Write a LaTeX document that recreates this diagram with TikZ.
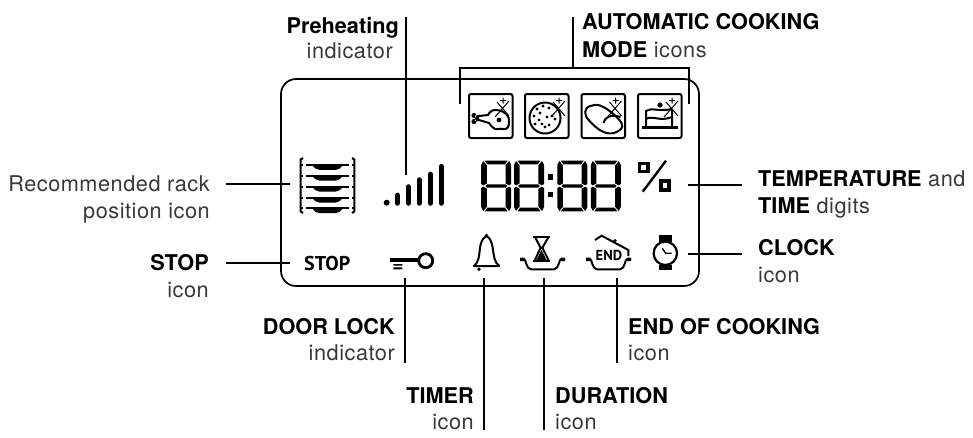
\documentclass[tikz,border=0pt]{standalone}
\usepackage{fontspec}
\setmainfont{TeX Gyre Heros}[UprightFeatures={LetterSpace=2.5}]
\newfontfamily\lcdfont{PT Sans}
\newcommand{\lblb}[1]{\textcolor{black}{\textbf{#1}}}
\tikzset{
    leader/.style={line width=1.3pt},
    panel/.style={draw, line width=1.7pt, rounded corners=15pt, minimum width=418pt, minimum height=207pt, inner sep=0pt},
    labelr/.style={anchor=base east, align=right, inner sep=0pt, text=black!78, font=\fontsize{21.7}{25}\selectfont},
    labell/.style={anchor=base west, align=left, inner sep=0pt, text=black!78, font=\fontsize{21.7}{25}\selectfont},
    lcdtext/.style={inner sep=0pt, font=\lcdfont\bfseries},
    lcdline/.style={line width=2pt},
    % frame of one cooking mode, with its star
    pics/foodbox/.style={code={
        \draw[line width=2pt, rounded corners=2pt] (0,0) rectangle (43.5,44);
        \draw[line width=1pt] (26,23) -- (40,7) (28,8) -- (40,22) (34,3.5) -- (34,9.5) (31,6.7) -- (37,6.7);
    }},
    % one digit, drawn about its centre
    pics/lcddigit/.style={code={
        \foreach \sy in {1,-1} {
            \fill[yscale=\sy] (-11.5,-25.4) -- (11.5,-25.4) -- (8.8,-21.6) -- (-8.8,-21.6) -- cycle;
        }
        \fill (-9.2,-1.7) -- (9.2,-1.7) -- (10.8,0) -- (9.2,1.7) -- (-9.2,1.7) -- (-10.8,0) -- cycle;
        \foreach \sx/\sy in {1/1,-1/1,1/-1,-1/-1} {
            \fill[xscale=\sx,yscale=\sy] (-13,-25) .. controls (-14.8,-23.5) .. (-15,-21) -- (-15,-2) -- (-12.8,-0.7) -- (-9.4,-2.6) -- (-9.4,-20.8) -- cycle;
        }
    }},
    % one rack of the oven
    pics/rackshelf/.style={code={
        \draw[line width=1.7pt] (6,0) -- (49,0);
        \fill (12,0) -- (43,0) .. controls (40,3) and (39,4.8) .. (36,4.8) -- (19,4.8) .. controls (16,4.8) and (15,3) .. (12,0) -- cycle;
        \draw[line width=1.7pt] (0,0) -- (3,0) (52,0) -- (55,0);
    }},
    % dish below the timer icons
    pics/lcdtray/.style={code={
        \draw[line width=2pt, line join=round] (0,0) -- (4,0) .. controls (6,0) and (6,10.3) .. (11,10.3) -- (34,10.3) .. controls (39,10.3) and (39,0) .. (41,0) -- (45,0);
        \fill (0,-1.4) rectangle (4,2) (41,-1.4) rectangle (45,2);
    }}
}
\begin{document}
\begin{tikzpicture}[x=1pt, y=-1pt]
    \useasboundingbox (0,0) rectangle (973,437);

    % Display
    \node[panel] (display) at (490,182.5) {};

    % Labels
    \node[labelr] (preheat) at (399,58) {\lblb{Preheating}\\indicator\hspace*{6pt}};
    \node[labell] (automatic) at (582,57) {\lblb{AUTOMATIC COOKING}\\[3pt]\lblb{MODE} icons};
    \node[labelr] (rack) at (210,218) {Recommended rack\\[2pt]position icon};
    \node[labelr] (stop) at (209,297) {\lblb{STOP}\\[2pt]icon};
    \node[labell] (temp) at (758,213) {\lblb{TEMPERATURE} and\\[2pt]\lblb{TIME} digits};
    \node[labell] (clock) at (758,282) {\lblb{CLOCK}\\[2pt]icon};
    \node[labelr] (door) at (395,360) {\lblb{DOOR LOCK}\\[1pt]indicator};
    \node[labelr] (timer) at (474,429) {\lblb{TIMER}\\[1pt]icon};
    \node[labell] (duration) at (555,429) {\lblb{DURATION}\\[1pt]icon};
    \node[labell] (endcook) at (628,360) {\lblb{END OF COOKING}\\[1pt]icon};

    % Leader ends
    \coordinate (preheatA) at (406,17);
    \coordinate (preheatB) at (406,175);
    \coordinate (autoA) at (573,17);
    \coordinate (autoB) at (573,68);
    \coordinate (autoL) at (460,68);
    \coordinate (autoR) at (689,68);
    \coordinate (autoLd) at (460,104);
    \coordinate (autoRd) at (689,104);
    \coordinate (rackA) at (226,184);
    \coordinate (rackB) at (290,184);
    \coordinate (stopA) at (226,263);
    \coordinate (stopB) at (290,263);
    \coordinate (tempA) at (688,185);
    \coordinate (tempB) at (742,185);
    \coordinate (clockA) at (688,254);
    \coordinate (clockB) at (742,254);
    \coordinate (doorA) at (405,278);
    \coordinate (doorB) at (405,363);
    \coordinate (timerA) at (484,278);
    \coordinate (timerB) at (484,430);
    \coordinate (durationA) at (544,278);
    \coordinate (durationB) at (544,430);
    \coordinate (endA) at (617,278);
    \coordinate (endB) at (617,363);

    % Leaders
    \draw[leader] (preheatA) -- (preheatB);
    \draw[leader] (autoA) -- (autoB);
    \draw[leader] (autoLd) -- (autoL) -- (autoR) -- (autoRd);
    \draw[leader] (rackA) -- (rackB);
    \draw[leader] (stopA) -- (stopB);
    \draw[leader] (tempA) -- (tempB);
    \draw[leader] (clockA) -- (clockB);
    \draw[leader] (doorA) -- (doorB);
    \draw[leader] (timerA) -- (timerB);
    \draw[leader] (durationA) -- (durationB);
    \draw[leader] (endA) -- (endB);

    % Cooking modes
    \pic at (469,94) {foodbox};
    \pic at (525,94) {foodbox};
    \pic at (581.5,94) {foodbox};
    \pic at (638,94) {foodbox};
    \begin{scope}[shift={(469,94)}]
        \draw[lcdline] (10,22) -- (19,21) .. controls (21,17) and (24,15.5) .. (28,16) .. controls (36,17) and (41,22) .. (40,28) .. controls (40,33) and (38,36) .. (34,35) .. controls (30,34) and (28,36) .. (26,35) .. controls (23,34) and (22,31) .. (20,29) -- (10,26);
        \fill (5,21.5) circle (2.6) (5,27.5) circle (2.6) (6,21) rectangle (10,27);
        \fill (30,26) circle (2.4);
    \end{scope}
    \begin{scope}[shift={(525,94)}]
        \draw[lcdline] (20,24) circle (15.5);
        \foreach \px/\py in {12/15,18/12,24/14,15/19,9/22,27/22,22/23,30/25,14/26,10/30,20/33,24/31,17/30} {
            \fill (\px,\py) circle (1.7);
        }
    \end{scope}
    \begin{scope}[shift={(581.5,94)}]
        \draw[lcdline] plot[smooth cycle, tension=0.7] coordinates {(3.7,18) (9,12) (22,13) (40,29) (35,38) (22,38) (8,27)};
        \draw[lcdline] (22,29) .. controls (23,23) and (30,20) .. (39,23);
    \end{scope}
    \begin{scope}[shift={(638,94)}]
        \draw[line width=2.6pt] (3.7,33.3) -- (40,33.3);
        \draw[lcdline] (8,33) -- (8,17) .. controls (14,13) and (20,18) .. (34,15);
        \draw[lcdline] (8,25) .. controls (14,21) and (22,28) .. (34,23) (34,33) -- (34,15);
        \fill (22,11) circle (2.6);
    \end{scope}

    % Rack position
    \foreach \ry in {165,175.7,186.7,197.7,208.3} {
        \pic at (300,\ry) {rackshelf};
    }
    \draw[line width=2pt] (303,158) -- (300.7,159.5) -- (300.7,211.5) -- (303,213);
    \draw[line width=2pt] (352,158) -- (354.3,159.5) -- (354.3,211.5) -- (352,213);

    % Preheating bars
    \fill (386.7,202.7) circle (3);
    \foreach \bx/\bt in {397.3/192.7,408.3/184.3,419.3/177.3,430.3/171.7,441.3/164} {
        \draw[line width=5.6pt, line cap=round] (\bx,\bt+2.7) -- (\bx,203);
    }

    % Digits
    \foreach \dx in {496.2,529,572.3,605.8} {
        \pic at (\dx,186) {lcddigit};
    }
    \fill (547.7,174) rectangle (553,180);
    \fill (547.7,191.7) rectangle (553,197.3);

    % Percent sign
    \draw[line width=3.6pt] (639.5,163.5) rectangle (648.2,171.5);
    \draw[line width=3.6pt] (660.8,181.1) rectangle (669.2,189.9);
    \draw[line width=2.4pt] (642.7,191.7) -- (666,160.7);

    % Bottom row
    \node[lcdtext, anchor=base west, font=\fontsize{20}{20}\selectfont\lcdfont\bfseries] (stoptext) at (304,270) {STOP};

    \draw[line width=2.8pt] (425.7,260.7) circle (7);
    \draw[line width=3.8pt] (390,260) -- (418,260);
    \fill (393.3,264) rectangle (402.3,265.7) (393.3,267.3) rectangle (402.3,269.3);

    \draw[lcdline, line join=round] (474,266) -- (499.3,266) .. controls (494,262) and (494,256) .. (492.7,248) .. controls (491.5,240) and (489,237) .. (486.5,236.5) .. controls (484,237) and (481,240) .. (480,248) .. controls (479,256) and (479,262) .. (474,266) -- cycle;
    \fill (486.5,235.5) circle (1.9);
    \fill (479,269.3) circle (1.9);

    \pic at (520,259) {lcdtray};
    \draw[line width=2pt] (533.3,236.5) -- (550,236.5) (533.3,260.5) -- (550,260.5);
    \draw[lcdline, line join=round] (535,237) -- (540.5,247.5) -- (542.5,247.5) -- (548.5,237);
    \draw[lcdline] (540.5,248) -- (535,260) (542.5,248) -- (548.5,260);
    \fill (541.5,250) -- (546.5,260) -- (536.5,260) -- cycle;

    \pic at (586,259) {lcdtray};
    \draw[lcdline] (595,240) -- (601.7,235.7) -- (628.3,250) -- (628.3,256);
    \fill (615,240.7) circle (1.8);
    \node[lcdtext, anchor=base west, font=\fontsize{14.5}{15}\selectfont\lcdfont\bfseries] (endtext) at (595.5,260.7) {END};

    \draw[line width=2.2pt] (665.3,253.3) circle (11.7);
    \fill (658.7,235) rectangle (671.7,241.7);
    \fill (658.7,265) rectangle (671.7,270);
    \draw[line width=1.3pt] (662.3,248.3) -- (665.7,253.3) -- (671.7,253.3);
\end{tikzpicture}
\end{document}
